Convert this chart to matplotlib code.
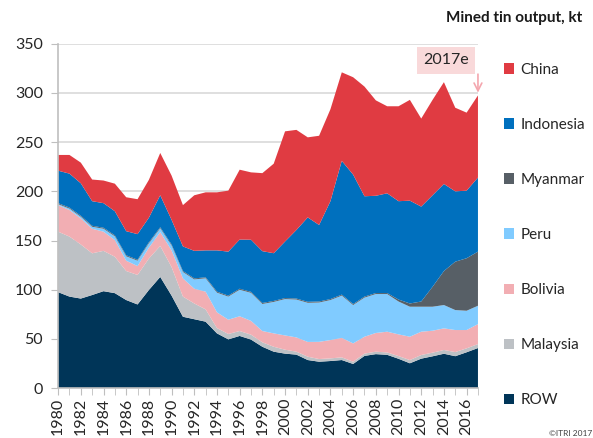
import matplotlib.pyplot as plt
import numpy as np
from matplotlib.patches import Patch

plt.rcParams['font.family'] = ['Lato', 'DejaVu Sans']

years = np.arange(1980, 2018)

# kt per year
row = [97.5, 93, 91, 94.6, 98.5, 96.5, 89.5, 85, 99.7, 113, 94, 72.5, 70, 67.5, 55.6, 49.5, 53, 49.3, 42,
       37, 35, 34, 28.5, 26.8, 27.5, 28.5, 24.5, 32.7, 34.5, 33.8, 29.8, 25.2, 29.9, 32.3, 34.9, 32.4, 36.4, 40.7]
malaysia = [61.5, 61, 55, 42.4, 41, 37, 29.5, 30, 32, 31.5, 29, 20.5, 16, 12.5, 5.4, 5.5, 5, 5, 4.5,
            5, 4, 3, 3.4, 2.7, 2.7, 2.7, 2.3, 2.3, 2.5, 2.4, 2.7, 3.3, 3.7, 3.7, 3.8, 4.2, 4, 4]
bolivia = [27, 27, 26.5, 25, 19.5, 17, 10.5, 9, 11, 14, 17, 18.5, 15, 18, 16, 14.5, 15, 14, 11.5,
           13.6, 14.5, 14.5, 15, 17.5, 18.6, 19.8, 18.6, 17.2, 19, 21.1, 22.1, 23.7, 23.7, 22.3, 22, 22.4, 18.6, 20.3]
peru = [1, 1.5, 1.7, 2, 3, 3.8, 4.5, 5.5, 4.5, 4, 5, 6.5, 9.5, 13.6, 20, 23.5, 27, 28.5, 27.5,
        32, 37, 38.5, 39.8, 40, 40.7, 43, 39, 39.8, 39.6, 38.3, 33.4, 30.5, 25.4, 24.4, 23.7, 20.3, 19.6, 18.7]
myanmar = [1, 1, 1, 1, 1, 1, 1, 1, 1, 1, 1, 1, 1, 1, 1, 1, 1, 1, 1,
           1, 1, 1, 1, 1, 1, 1, 1, 1, 1, 1, 2, 3.3, 5.3, 20.3, 34.6, 49.2, 53.4, 55]
indonesia = [33, 34.5, 33, 25, 25, 24.5, 24.5, 26, 25, 32.5, 25, 25, 28, 27.4, 42, 44.7, 50, 53, 52.7,
             48.5, 57.5, 69.7, 85.8, 77.8, 99.5, 136, 131.6, 102, 98.9, 101.4, 100, 104.5, 96.5, 93, 88.5, 71.5, 68.7, 75.3]
china = [16, 19, 21, 22, 23, 28, 34.5, 35.5, 38.5, 43, 45, 42, 56.5, 59, 59, 62, 71, 68.5, 79.3,
         91, 112, 101.8, 81.4, 90.7, 93.5, 90, 99, 111.5, 97, 88.5, 96.5, 102.5, 89.5, 97, 103.5, 85, 79.3, 83.5]

names = ['ROW', 'Malaysia', 'Bolivia', 'Peru', 'Myanmar', 'Indonesia', 'China']
colors = ['#003558', '#BDC1C5', '#F2AEB3', '#80CBFF', '#575F66', '#0070BE', '#E03B42']

fig = plt.figure(figsize=(5.93, 4.38), dpi=100)
ax = fig.add_axes([0.098, 0.114, 0.708, 0.786])

ax.stackplot(years, row, malaysia, bolivia, peru, myanmar, indonesia, china,
             colors=colors, linewidth=0, zorder=2)

ax.set_xlim(1980, 2017)
ax.set_ylim(0, 350)
ax.set_yticks(np.arange(0, 351, 50))
ax.grid(axis='y', color='#D9D9D9', linewidth=1.2, zorder=0)
ax.set_axisbelow(True)
ax.set_xticks(np.arange(1980, 2017, 2))
ax.set_xticks(np.arange(1980, 2018, 1), minor=True)
ax.tick_params(axis='x', which='both', length=5, color='#BFBFBF', labelrotation=90,
               labelsize=11.5, labelcolor='#262626', pad=2)
ax.tick_params(axis='y', length=5, color='#BFBFBF', labelsize=11.5, labelcolor='#262626', pad=6)
for s in ['top', 'right']:
    ax.spines[s].set_visible(False)
for s in ['left', 'bottom']:
    ax.spines[s].set_color('#BFBFBF')
    ax.spines[s].set_linewidth(1.2)

# 2017e marker
total_2017 = row[-1] + malaysia[-1] + bolivia[-1] + peru[-1] + myanmar[-1] + indonesia[-1] + china[-1]
ax.annotate('', xy=(2017, total_2017), xytext=(2017, 322), xycoords='data',
            arrowprops=dict(arrowstyle='->', color='#F4A6AE', lw=1.2, mutation_scale=14), zorder=5)
fig.text(0.752, 0.862, '2017e', ha='center', va='center', fontsize=11.5, color='#262626',
         bbox=dict(boxstyle='square,pad=0.38', facecolor='#F9D9DA', edgecolor='none'))

handles = [Patch(facecolor=c) for c in colors][::-1]
fig.legend(handles, names[::-1], loc='upper left', bbox_to_anchor=(0.826, 0.888),
           frameon=False, fontsize=11, handlelength=0.7, handleheight=0.7,
           handletextpad=0.4, labelspacing=2.69, labelcolor='#262626')

fig.text(0.982, 0.958, 'Mined tin output, kt', ha='right', va='center', fontsize=11,
         fontweight='bold', color='#1a1a1a')
fig.text(0.998, 0.003, '\u00a9ITRI 2017', ha='right', va='bottom', fontsize=6, color='#404040')

fig.savefig('out.png', dpi=100)
